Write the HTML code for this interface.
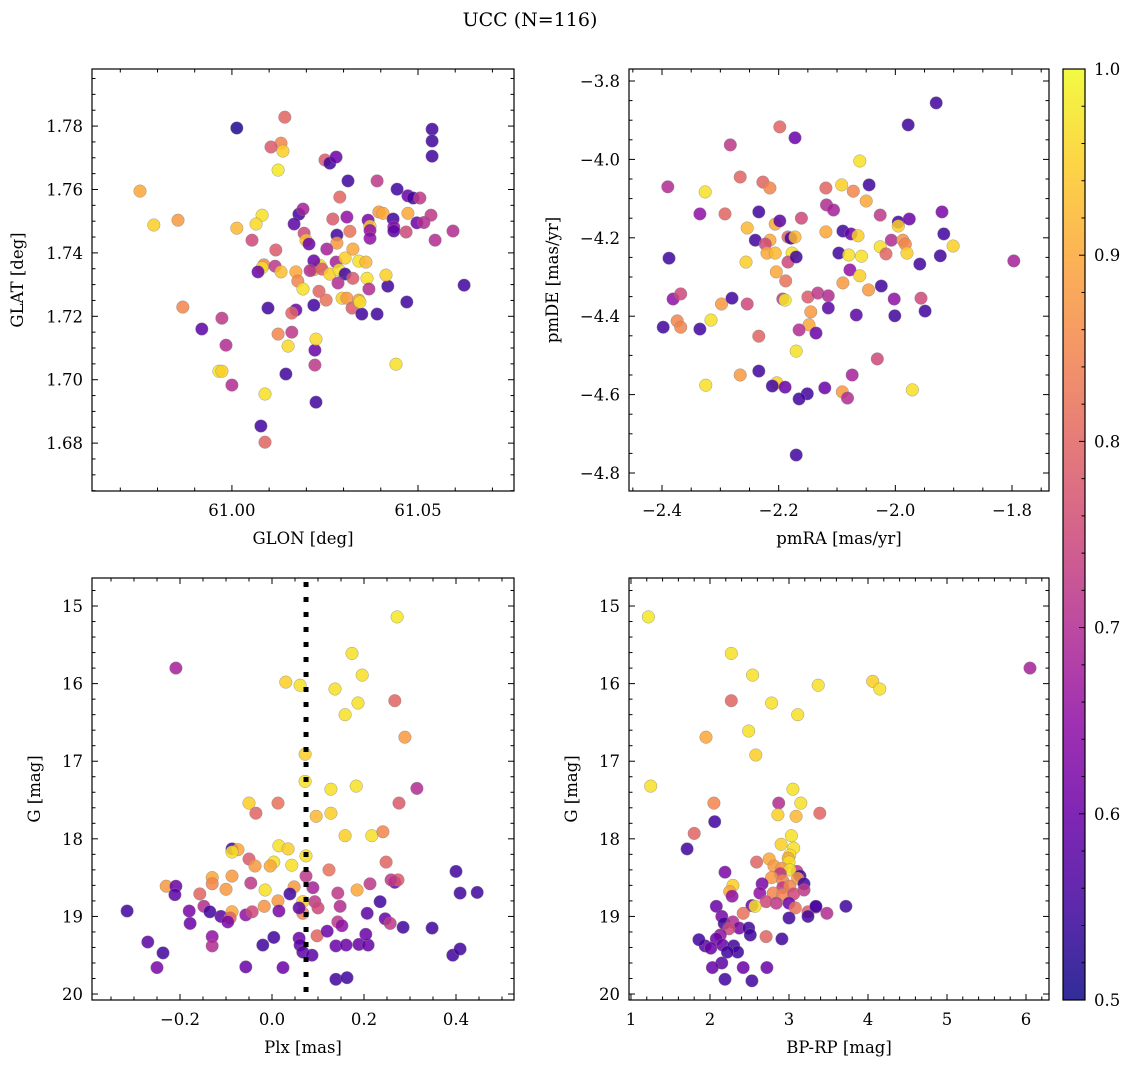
<!DOCTYPE html>
<html><head><meta charset="utf-8"><style>
html,body{margin:0;padding:0;background:#fff;}
svg{display:block;font-family:"DejaVu Serif","Liberation Serif",serif;}
</style></head><body>
<svg id="chart" width="1135" height="1068" viewBox="0 0 1135 1068" xmlns="http://www.w3.org/2000/svg">
<defs><linearGradient id="cbg" x1="0" y1="1" x2="0" y2="0">
<stop offset="0" stop-color="#0d0887"/><stop offset="0.1" stop-color="#41049d"/><stop offset="0.2" stop-color="#6a00a8"/><stop offset="0.3" stop-color="#8f0da4"/><stop offset="0.4" stop-color="#b12a90"/><stop offset="0.5" stop-color="#cc4778"/><stop offset="0.6" stop-color="#e16462"/><stop offset="0.7" stop-color="#f2844b"/><stop offset="0.8" stop-color="#fca636"/><stop offset="0.9" stop-color="#fcce25"/><stop offset="1" stop-color="#f0f921"/>
</linearGradient></defs>
<text x="530" y="26" font-size="19" text-anchor="middle">UCC (N=116)</text>
</svg>
<script>
// Panel 1: GLON vs GLAT
const glon1=[61.0013,61.0142,61.0132,61.0137,61.0105,61.0124,60.9753,60.9790,60.9855,61.0013,61.0081,61.0065,61.0054,61.0118,61.0086,61.0081,61.0116,61.0070,61.0132,61.0180,61.0191,61.0167,61.0194,61.0199,61.0207,61.0172,61.0177,61.0191,61.0172,61.0161,61.0097,61.0124,61.0161,61.0151,60.9984,60.9973,60.9919,60.9868,60.9965,60.9973,61.0000,61.0089,61.0078,61.0089,61.0145,61.0223,61.0223,61.0226,61.0226,61.0220,61.0234,61.0253,61.0220,61.0237,61.0220,61.0210,61.0250,61.0263,61.0280,61.0312,61.0290,61.0309,61.0271,61.0282,61.0282,61.0255,61.0242,61.0263,61.0280,61.0288,61.0304,61.0304,61.0285,61.0296,61.0309,61.0325,61.0323,61.0341,61.0349,61.0341,61.0325,61.0360,61.0363,61.0368,61.0344,61.0390,61.0366,61.0371,61.0395,61.0371,61.0317,61.0371,61.0390,61.0406,61.0433,61.0435,61.0435,61.0468,61.0473,61.0497,61.0473,61.0487,61.0505,61.0516,61.0444,61.0419,61.0414,61.0441,61.0538,61.0538,61.0538,61.0546,61.0535,61.0470,61.0594,61.0624];
const glat1=[1.7794,1.7828,1.7746,1.7721,1.7734,1.7661,1.7595,1.7488,1.7503,1.7478,1.7519,1.7491,1.7440,1.7409,1.7362,1.7353,1.7358,1.7340,1.7340,1.7522,1.7538,1.7491,1.7462,1.7440,1.7428,1.7340,1.7311,1.7286,1.7220,1.7210,1.7226,1.7144,1.7150,1.7106,1.7109,1.7194,1.7160,1.7229,1.7027,1.7027,1.6983,1.6955,1.6854,1.6803,1.7018,1.7046,1.7093,1.7128,1.6929,1.7235,1.7279,1.7251,1.7347,1.7360,1.7375,1.7344,1.7693,1.7683,1.7702,1.7627,1.7576,1.7513,1.7507,1.7456,1.7431,1.7412,1.7349,1.7333,1.7371,1.7346,1.7384,1.7333,1.7305,1.7257,1.7257,1.7320,1.7226,1.7251,1.7207,1.7374,1.7412,1.7371,1.7320,1.7286,1.7245,1.7207,1.7503,1.7484,1.7529,1.7471,1.7468,1.7446,1.7627,1.7525,1.7507,1.7481,1.7469,1.7466,1.7525,1.7495,1.7580,1.7573,1.7573,1.7496,1.7601,1.7295,1.7330,1.7049,1.7790,1.7753,1.7705,1.7440,1.7519,1.7245,1.7469,1.7298];
const prob1=[0.52,0.8,0.85,0.95,0.78,0.98,0.9,0.95,0.88,0.92,0.97,0.96,0.75,0.78,0.85,0.97,0.72,0.6,0.93,0.55,0.68,0.58,0.75,0.93,0.6,0.9,0.85,0.97,0.6,0.8,0.55,0.85,0.72,0.96,0.7,0.72,0.58,0.85,0.98,0.95,0.7,0.97,0.55,0.8,0.55,0.72,0.6,0.96,0.55,0.55,0.8,0.82,0.9,0.96,0.6,0.7,0.78,0.55,0.6,0.55,0.8,0.65,0.78,0.55,0.88,0.68,0.78,0.95,0.68,0.97,0.95,0.55,0.7,0.95,0.88,0.78,0.78,0.88,0.55,0.97,0.9,0.92,0.97,0.7,0.97,0.55,0.62,0.95,0.88,0.65,0.82,0.65,0.72,0.9,0.55,0.65,0.58,0.75,0.9,0.6,0.6,0.55,0.72,0.7,0.55,0.55,0.95,0.97,0.55,0.55,0.55,0.7,0.72,0.55,0.7,0.55];
// Panel 2: pmRA vs pmDE
const pmra2=[-1.930,-1.978,-2.198,-2.172,-2.283,-2.061,-2.390,-2.266,-2.227,-2.215,-2.326,-2.092,-2.119,-2.072,-2.045,-2.050,-2.335,-2.292,-2.234,-2.118,-2.106,-2.161,-2.206,-2.198,-1.920,-2.026,-1.995,-1.976,-1.995,-2.254,-2.240,-2.215,-2.184,-2.179,-2.172,-2.119,-2.090,-2.076,-2.064,-2.097,-2.007,-2.026,-2.016,-1.987,-1.983,-1.917,-1.901,-1.923,-1.958,-1.980,-2.223,-2.220,-2.206,-2.177,-2.184,-2.388,-2.256,-2.170,-2.078,-2.080,-2.058,-2.061,-2.090,-2.046,-2.024,-1.797,-2.204,-2.188,-2.193,-2.150,-2.133,-2.115,-2.145,-2.148,-2.165,-2.136,-2.115,-2.067,-2.189,-2.381,-2.368,-2.398,-2.374,-2.368,-2.335,-2.316,-2.298,-2.254,-2.234,-2.280,-2.002,-2.001,-1.956,-1.949,-2.325,-2.266,-2.234,-2.170,-2.203,-2.211,-2.189,-2.151,-2.165,-2.121,-2.091,-2.082,-2.074,-2.031,-1.971,-2.170];
const pmde2=[-3.856,-3.912,-3.917,-3.945,-3.963,-4.004,-4.070,-4.045,-4.058,-4.073,-4.083,-4.065,-4.073,-4.081,-4.065,-4.106,-4.139,-4.139,-4.134,-4.116,-4.129,-4.150,-4.165,-4.157,-4.134,-4.142,-4.160,-4.152,-4.170,-4.175,-4.206,-4.206,-4.198,-4.201,-4.198,-4.185,-4.183,-4.190,-4.195,-4.239,-4.206,-4.223,-4.241,-4.206,-4.216,-4.190,-4.221,-4.246,-4.267,-4.239,-4.216,-4.239,-4.239,-4.239,-4.262,-4.252,-4.262,-4.249,-4.282,-4.244,-4.247,-4.297,-4.315,-4.333,-4.323,-4.259,-4.287,-4.310,-4.356,-4.351,-4.341,-4.348,-4.389,-4.422,-4.435,-4.443,-4.379,-4.397,-4.359,-4.356,-4.343,-4.428,-4.412,-4.428,-4.433,-4.410,-4.369,-4.369,-4.451,-4.354,-4.356,-4.399,-4.354,-4.387,-4.576,-4.550,-4.540,-4.489,-4.570,-4.578,-4.581,-4.598,-4.611,-4.583,-4.593,-4.609,-4.550,-4.509,-4.588,-4.754];
const prob2=[0.55,0.55,0.8,0.6,0.72,0.97,0.7,0.8,0.8,0.85,0.97,0.95,0.8,0.85,0.55,0.9,0.65,0.8,0.55,0.7,0.68,0.75,0.9,0.58,0.62,0.72,0.55,0.6,0.95,0.92,0.55,0.9,0.8,0.55,0.92,0.9,0.55,0.6,0.95,0.55,0.7,0.97,0.8,0.87,0.85,0.55,0.95,0.55,0.55,0.95,0.75,0.9,0.92,0.97,0.75,0.55,0.95,0.55,0.65,0.97,0.97,0.95,0.88,0.88,0.55,0.68,0.9,0.82,0.72,0.78,0.72,0.7,0.88,0.9,0.7,0.6,0.58,0.58,0.98,0.65,0.75,0.55,0.85,0.85,0.55,0.97,0.88,0.75,0.8,0.55,0.65,0.55,0.75,0.55,0.97,0.88,0.55,0.97,0.95,0.55,0.6,0.55,0.55,0.6,0.88,0.7,0.68,0.75,0.97,0.55];
// Panel 3: Plx vs G
const plx3=[-0.209,0.030,0.061,0.272,0.174,0.196,0.137,0.187,0.159,0.267,0.289,0.072,0.072,0.128,0.183,0.315,-0.050,0.013,0.276,-0.035,0.096,0.128,0.159,0.217,0.241,-0.087,-0.074,-0.087,0.015,0.035,0.074,-0.050,-0.037,0.004,-0.004,0.043,0.124,0.248,0.143,0.185,-0.087,-0.130,-0.100,-0.130,-0.230,-0.209,-0.211,-0.180,-0.148,-0.157,-0.046,-0.015,0.048,0.039,0.074,0.089,0.093,0.067,0.067,0.013,-0.017,0.015,0.059,0.100,0.207,0.235,0.267,0.274,0.259,0.213,0.148,-0.057,-0.043,-0.087,-0.111,-0.091,-0.135,-0.096,-0.315,-0.178,-0.130,-0.130,-0.270,-0.237,-0.250,-0.020,-0.057,0.024,0.059,0.061,0.067,0.087,0.098,0.120,0.143,0.152,0.139,0.161,0.189,0.209,0.204,0.246,0.257,0.139,0.163,0.285,0.348,0.400,0.409,0.446,0.393,0.409,0.004];
const g3=[15.80,15.98,16.02,15.14,15.61,15.89,16.07,16.25,16.40,16.22,16.69,16.91,17.26,17.36,17.32,17.35,17.54,17.54,17.54,17.67,17.71,17.67,17.96,17.96,17.91,18.13,18.14,18.17,18.09,18.13,18.22,18.26,18.35,18.30,18.35,18.34,18.40,18.30,18.70,18.66,18.48,18.50,18.65,18.58,18.61,18.61,18.72,18.93,18.87,18.71,18.57,18.66,18.62,18.71,18.48,18.63,18.81,18.96,18.81,18.80,18.87,18.93,18.89,18.89,18.96,18.81,18.56,18.53,18.53,18.58,18.87,18.98,18.94,18.94,19.00,19.02,18.94,19.07,18.93,19.09,19.26,19.38,19.33,19.47,19.66,19.37,19.65,19.66,19.28,19.37,19.46,19.50,19.25,19.19,19.07,19.12,19.38,19.37,19.36,19.37,19.23,19.03,19.09,19.81,19.79,19.14,19.15,18.42,18.70,18.69,19.50,19.42,19.27];
const prob3=[0.68,0.95,0.97,0.98,0.97,0.97,0.97,0.97,0.97,0.8,0.88,0.95,0.97,0.97,0.97,0.7,0.95,0.82,0.78,0.8,0.92,0.95,0.95,0.97,0.85,0.55,0.9,0.97,0.97,0.95,0.97,0.78,0.88,0.97,0.9,0.97,0.82,0.8,0.72,0.9,0.88,0.9,0.88,0.85,0.88,0.6,0.58,0.62,0.7,0.8,0.72,0.97,0.88,0.55,0.72,0.68,0.72,0.85,0.95,0.88,0.87,0.62,0.58,0.75,0.58,0.55,0.6,0.78,0.72,0.72,0.7,0.65,0.75,0.9,0.58,0.8,0.55,0.62,0.55,0.6,0.65,0.7,0.58,0.55,0.62,0.55,0.6,0.6,0.6,0.58,0.58,0.58,0.8,0.6,0.72,0.65,0.6,0.6,0.6,0.6,0.6,0.6,0.72,0.55,0.55,0.55,0.55,0.55,0.55,0.55,0.55,0.55,0.55];
const plxLine=[0.074];
// Panel 4: BP-RP vs G
const bprp4=[1.22,6.05,2.27,2.54,4.06,4.15,3.37,2.27,2.78,3.11,1.95,2.49,2.58,1.25,3.05,2.87,2.05,3.15,1.80,3.39,2.86,3.09,2.06,1.71,3.03,2.90,3.06,3.01,2.99,2.75,3.00,2.59,2.81,3.10,2.19,2.91,3.01,3.14,3.11,2.89,2.78,2.92,2.66,2.92,3.01,3.19,3.19,2.29,2.25,2.63,2.80,2.92,3.06,2.84,3.00,2.71,2.53,2.28,2.08,2.57,3.08,3.24,3.34,3.24,2.42,2.15,3.34,3.00,3.72,3.48,2.18,2.29,2.37,2.24,2.49,2.71,2.91,2.13,2.08,2.16,2.30,2.35,2.22,1.94,2.01,2.15,2.42,2.72,2.03,2.19,2.53,1.86,2.51];
const g4=[15.14,15.80,15.61,15.89,15.97,16.07,16.02,16.22,16.25,16.40,16.69,16.61,16.92,17.32,17.36,17.54,17.54,17.54,17.93,17.67,17.69,17.71,17.78,18.13,17.96,18.07,18.12,18.21,18.25,18.26,18.30,18.30,18.35,18.42,18.43,18.38,18.40,18.48,18.51,18.45,18.50,18.54,18.58,18.63,18.61,18.58,18.66,18.60,18.68,18.70,18.70,18.72,18.71,18.83,18.83,18.81,18.86,18.74,18.87,18.87,18.89,18.94,18.88,19.00,18.96,19.00,18.87,19.02,18.87,18.96,19.09,19.07,19.15,19.16,19.15,19.26,19.29,19.24,19.29,19.37,19.38,19.46,19.46,19.38,19.41,19.60,19.66,19.66,19.66,19.81,19.83,19.30,19.24];
const prob4=[0.98,0.68,0.97,0.97,0.95,0.97,0.97,0.8,0.97,0.97,0.9,0.97,0.95,0.97,0.97,0.7,0.85,0.97,0.8,0.8,0.95,0.92,0.55,0.55,0.97,0.95,0.97,0.97,0.9,0.9,0.97,0.8,0.88,0.72,0.62,0.88,0.97,0.55,0.88,0.72,0.88,0.85,0.62,0.72,0.85,0.55,0.72,0.95,0.9,0.65,0.85,0.85,0.75,0.72,0.6,0.75,0.6,0.65,0.6,0.97,0.82,0.78,0.65,0.55,0.82,0.62,0.55,0.55,0.55,0.7,0.55,0.7,0.62,0.75,0.55,0.8,0.55,0.65,0.6,0.6,0.55,0.55,0.55,0.58,0.6,0.58,0.6,0.6,0.6,0.55,0.55,0.55,0.55];
// Colorbar ticks
const cbTicks=[0.5,0.6,0.7,0.8,0.9,1.0];

const NS="http://www.w3.org/2000/svg";
const svg=document.getElementById('chart');
function mk(tag,attrs,parent){const e=document.createElementNS(NS,tag);for(const k in attrs)e.setAttribute(k,attrs[k]);(parent||svg).appendChild(e);return e;}
const stops=[[13,8,135],[65,4,157],[106,0,168],[143,13,164],[177,42,144],[204,71,120],[225,100,98],[242,132,75],[252,166,54],[252,206,37],[240,249,33]];
function plasma(p){let t=Math.max(0,Math.min(1,(p-0.5)/0.5))*10;const i=Math.min(9,Math.floor(t)),f=t-i;const a=stops[i],b=stops[i+1];return 'rgb('+[0,1,2].map(k=>Math.round(a[k]+(b[k]-a[k])*f)).join(',')+')';}
function lin(d0,d1,r0,r1){return v=>r0+(v-d0)/(d1-d0)*(r1-r0);}
const FS=16.5;

function panel(o){
  const g=mk('g',{});
  
  
  const sx=lin(o.xd[0],o.xd[1],o.x0,o.x1), sy=lin(o.yd[0],o.yd[1],o.y1,o.y0);
  const pg=mk('g',{},g);
  
  
  for(let i=0;i<o.xs.length;i++){
    const c=mk('circle',{cx:sx(o.xs[i]).toFixed(1),cy:sy(o.ys[i]).toFixed(1),r:6.3,fill:plasma(o.ps[i]),'fill-opacity':0.85,stroke:'#888','stroke-width':0.4},pg);
    
    
  }
  if(o.vline){
    const l=mk('line',{x1:sx(o.vline),x2:sx(o.vline),y1:o.y0+4,y2:o.y1,stroke:'#000','stroke-width':5,'stroke-dasharray':'5,10'},g);
    
    
  }
  const fr=mk('rect',{x:o.x0,y:o.y0,width:o.x1-o.x0,height:o.y1-o.y0,fill:'none',stroke:'#000','stroke-width':1.2},g);
  
  
  const eps=1e-9;
  const xlo=Math.min(...o.xd), xhi=Math.max(...o.xd), ylo=Math.min(...o.yd), yhi=Math.max(...o.yd);
  for(let k=Math.ceil(xlo/o.xmin-eps); k*o.xmin<=xhi+eps; k++){
    const v=k*o.xmin; const px=sx(v); if(px<o.x0||px>o.x1) continue;
    const major=Math.abs(v/o.xmaj-Math.round(v/o.xmaj))<1e-6;
    const L=major?6:3.5;
    mk('line',{x1:px,x2:px,y1:o.y1,y2:o.y1-L,stroke:'#000','stroke-width':1},g);
    mk('line',{x1:px,x2:px,y1:o.y0,y2:o.y0+L,stroke:'#000','stroke-width':1},g);
    if(major&&o.xlab.indexOf(+v.toFixed(4))>=0){
      const t=mk('text',{x:px,y:o.y1+25,'font-size':FS,'text-anchor':'middle'},g);
      t.textContent=o.xfmt(v).replace('-','\u2212');
      
      
    }
  }
  for(let k=Math.ceil(ylo/o.ymin-eps); k*o.ymin<=yhi+eps; k++){
    const v=k*o.ymin; const py=sy(v); if(py<o.y0||py>o.y1) continue;
    const major=Math.abs(v/o.ymaj-Math.round(v/o.ymaj))<1e-6;
    const L=major?6:3.5;
    mk('line',{x1:o.x0,x2:o.x0+L,y1:py,y2:py,stroke:'#000','stroke-width':1},g);
    mk('line',{x1:o.x1,x2:o.x1-L,y1:py,y2:py,stroke:'#000','stroke-width':1},g);
    if(major&&o.ylab.indexOf(+v.toFixed(4))>=0){
      const t=mk('text',{x:o.x0-9,y:py+6,'font-size':FS,'text-anchor':'end'},g);
      t.textContent=o.yfmt(v).replace('-','\u2212');
      
      
    }
  }
  const xt=mk('text',{x:(o.x0+o.x1)/2,y:o.y1+53,'font-size':FS,'text-anchor':'middle'},g);
  xt.textContent=o.xt;
  
  
  const yt=mk('text',{x:0,y:0,'font-size':FS,'text-anchor':'middle',transform:'translate('+o.ytx+','+(o.y0+o.y1)/2+') rotate(-90)'},g);
  yt.textContent=o.yt;
  
  
}
panel({name:'glon-glat-panel',xs:glon1,ys:glat1,ps:prob1,x0:92,x1:514,y0:69,y1:491,xd:[60.9624,61.0758],yd:[1.6649,1.798],xmaj:0.05,xmin:0.01,ymaj:0.02,ymin:0.005,xlab:[61,61.05],ylab:[1.68,1.7,1.72,1.74,1.76,1.78],xfmt:v=>v.toFixed(2),yfmt:v=>v.toFixed(2),xt:'GLON [deg]',yt:'GLAT [deg]',ytx:23});
panel({name:'pm-panel',xs:pmra2,ys:pmde2,ps:prob2,x0:629,x1:1049,y0:69,y1:491,xd:[-2.4566,-1.7366],yd:[-4.8459,-3.7694],xmaj:0.2,xmin:0.05,ymaj:0.2,ymin:0.05,xlab:[-2.4,-2.2,-2,-1.8],ylab:[-4.8,-4.6,-4.4,-4.2,-4,-3.8],xfmt:v=>v.toFixed(1),yfmt:v=>v.toFixed(1),xt:'pmRA [mas/yr]',yt:'pmDE [mas/yr]',ytx:558});
panel({name:'plx-g-panel',xs:plx3,ys:g3,ps:prob3,vline:plxLine[0],x0:92,x1:514,y0:578,y1:1000,xd:[-0.3913,0.5261],yd:[20.077,14.639],xmaj:0.2,xmin:0.05,ymaj:1,ymin:0.2,xlab:[-0.2,0,0.2,0.4],ylab:[15,16,17,18,19,20],xfmt:v=>v.toFixed(1),yfmt:v=>v.toFixed(0),xt:'Plx [mas]',yt:'G [mag]',ytx:40});
panel({name:'cmd-panel',xs:bprp4,ys:g4,ps:prob4,x0:629,x1:1049,y0:578,y1:1000,xd:[0.975,6.291],yd:[20.077,14.639],xmaj:1,xmin:0.2,ymaj:1,ymin:0.2,xlab:[1,2,3,4,5,6],ylab:[15,16,17,18,19,20],xfmt:v=>v.toFixed(0),yfmt:v=>v.toFixed(0),xt:'BP-RP [mag]',yt:'G [mag]',ytx:577});
const cb=mk('g',{});


mk('rect',{x:1063,y:69,width:22,height:931,fill:'url(#cbg)','fill-opacity':0.85},cb);
mk('rect',{x:1063,y:69,width:22,height:931,fill:'none',stroke:'#000','stroke-width':1.2},cb);
const cy=lin(0.5,1.0,1000,69);
for(let k=25;k<=50;k++){
  const v=k*0.02;
  const major=(k%5===0);
  mk('line',{x1:1085,x2:1085-(major?6:3.5),y1:cy(v),y2:cy(v),stroke:'#000','stroke-width':1},cb);
}
cbTicks.forEach(v=>{
  const t=mk('text',{x:1094,y:cy(v)+6,'font-size':FS},cb);
  t.textContent=v.toFixed(1);
  
  
});
</script>
</body></html>
